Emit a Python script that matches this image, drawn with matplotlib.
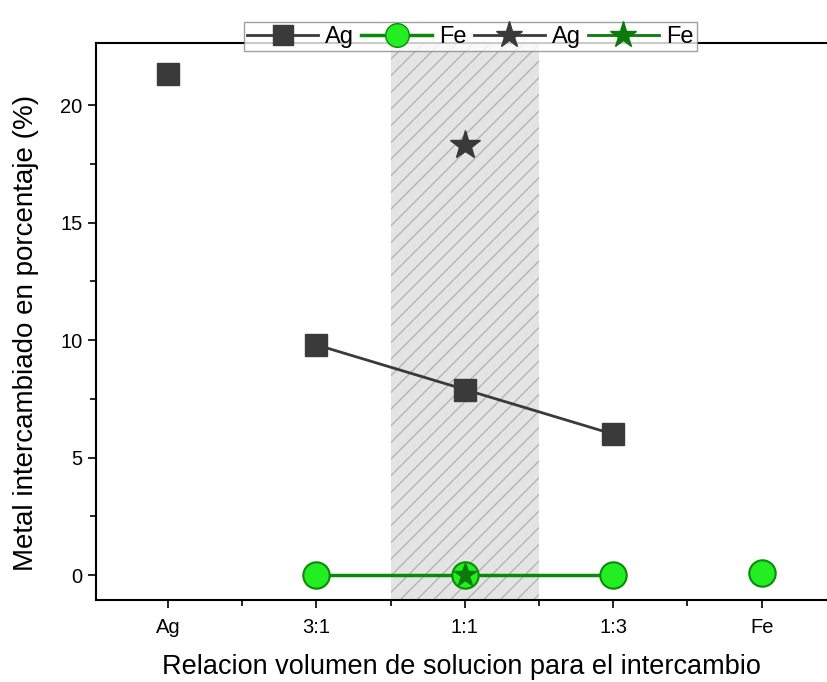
import numpy as np
from matplotlib import pyplot as plt

plt.rcParams['font.family'] = ['Liberation Sans', 'DejaVu Sans']
plt.rcParams['hatch.color'] = '#b0b0b0'
plt.rcParams['hatch.linewidth'] = 0.9

categories = ["Ag", "3:1", "1:1", "1:3", "Fe"]
mix_labels = ["3:1", "1:1", "1:3"]
ag_mix = [9.8, 7.9, 6.0]
fe_mix = [0.0, 0.0, 0.0]
ag_pure = 21.3
fe_pure = 0.08
ag_star = 18.3
fe_star = 0.0
span_start, span_end = 2.5, 3.5

xpos = {c: i + 1 for i, c in enumerate(categories)}
mx = [xpos[c] for c in mix_labels]

fig = plt.figure(figsize=(8.27, 6.82), dpi=100)
ax = fig.add_axes([0.116, 0.120, 0.884, 0.817])

ax.axvspan(span_start, span_end, facecolor='#e4e4e4', edgecolor='#b0b0b0',
           hatch='//', linewidth=0, zorder=0)

dark = '#3a3a3a'
lgreen = '#22ee22'
dgreen = '#0a8a0a'

ax.plot(mx, ag_mix, '-s', color=dark, lw=2, ms=16, mec=dark, zorder=3)
ax.plot([xpos["Ag"]], [ag_pure], 's', color=dark, ms=16, zorder=3)
ax.plot(mx, fe_mix, '-o', color=dgreen, lw=2.5, ms=19, mfc=lgreen, mec=dgreen, mew=1.5, zorder=3)
ax.plot([xpos["Fe"]], [fe_pure], 'o', ms=19, mfc=lgreen, mec=dgreen, mew=1.5, zorder=3)
ax.plot([xpos["1:1"]], [ag_star], '*', color=dark, ms=22, zorder=4)
ax.plot([xpos["1:1"]], [fe_star], '*', color='#0b7a0b', ms=17, zorder=4)

# legend handles (line + marker, as in the original)
h1, = ax.plot([], [], '-s', color=dark, lw=2, ms=15)
h2, = ax.plot([], [], '-o', color=dgreen, lw=2.5, ms=17, mfc=lgreen, mec=dgreen)
h3, = ax.plot([], [], '-*', color=dark, lw=2, ms=20)
h4, = ax.plot([], [], '-*', color='#0b7a0b', lw=2, ms=20)

leg = ax.legend([h1, h2, h3, h4], ['Ag', 'Fe', 'Ag', 'Fe'], ncol=4, loc='center',
                bbox_to_anchor=(0.512, 1.011), fontsize=17, frameon=True, fancybox=False,
                edgecolor='#888888', handlelength=3.0, handletextpad=0.3, columnspacing=0.3,
                borderpad=0.15, borderaxespad=0)
leg.get_frame().set_linewidth(1.0)

ax.set_xlim(0.515, 5.44)
ax.set_ylim(-1.06, 22.64)
ax.set_xticks([xpos[c] for c in categories])
ax.set_xticklabels(categories)
ax.set_xticks(np.arange(1.5, 5.0, 1.0), minor=True)
ax.set_yticks([0, 5, 10, 15, 20])
ax.set_yticks(np.arange(2.5, 22, 5), minor=True)
ax.tick_params(axis='both', which='major', direction='out', length=6, width=1.2, labelsize=14.5)
ax.tick_params(axis='both', which='minor', direction='out', length=4, width=1.2)
ax.tick_params(axis='x', pad=7)
for s in ['left', 'bottom', 'top']:
    ax.spines[s].set_linewidth(1.5)
ax.spines['right'].set_visible(False)

ax.set_xlabel('Relacion volumen de solucion para el intercambio', fontsize=19.5, labelpad=12)
ax.set_ylabel('Metal intercambiado en porcentaje (%)', fontsize=20)
ax.yaxis.set_label_coords(-0.078, 0.48)

fig.savefig('out.png', dpi=100)
